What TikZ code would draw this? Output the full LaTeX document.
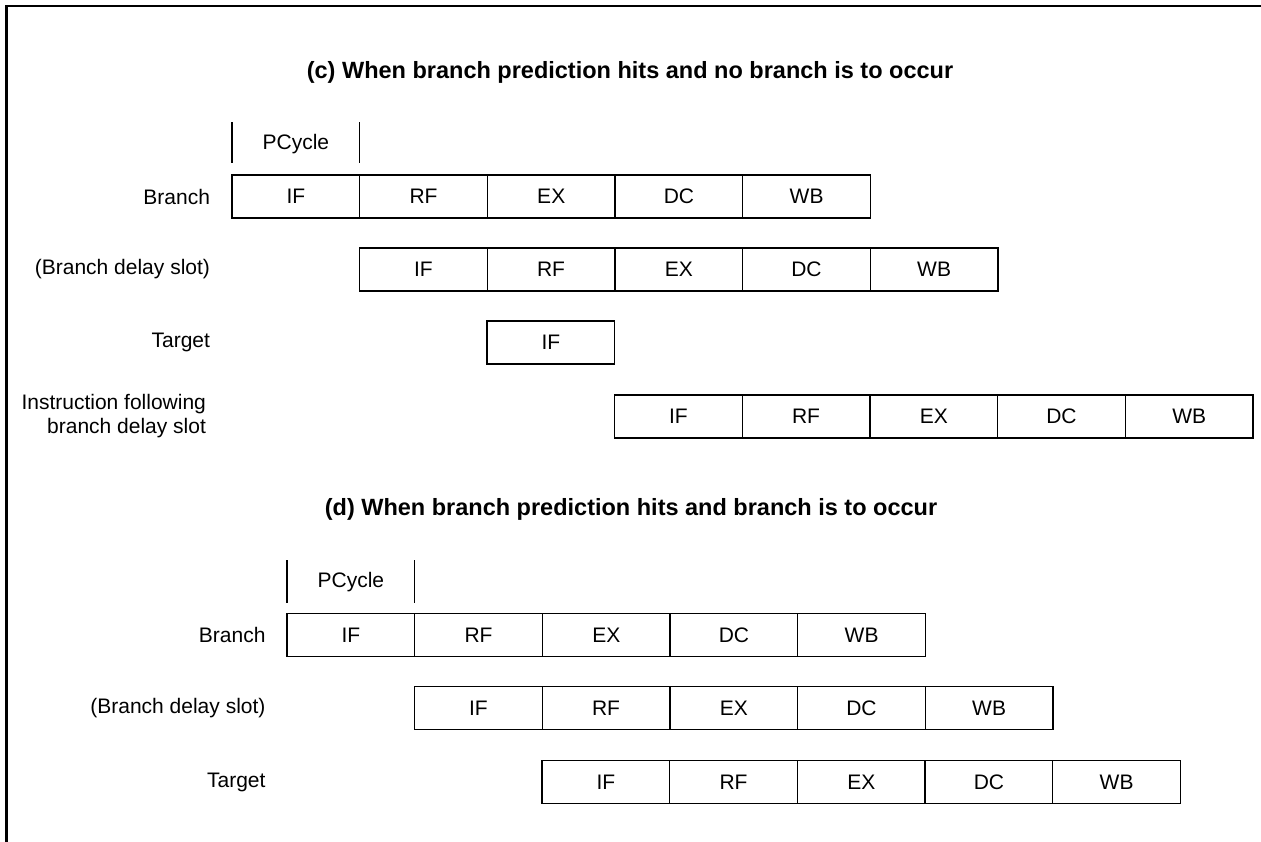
\documentclass[tikz,border=0pt]{standalone}
\usepackage{fontspec}
\setmainfont{Liberation Sans}
\usetikzlibrary{positioning}
\newcommand{\stagefont}{\fontsize{21}{24}\selectfont}
\newcommand{\titlefont}{\fontsize{23.5}{27}\selectfont\bfseries}
\begin{document}
\begin{tikzpicture}[x=1pt, y=-1pt]
        \tikzstyle{stage} = [rectangle, draw, line width=1.3pt, minimum width=127.7pt, minimum height=43pt, inner sep=0pt, outer sep=0pt, font=\stagefont]
        \tikzstyle{rowlabel} = [anchor=east, align=right, font=\stagefont]
        \tikzstyle{heading} = [font=\titlefont]
        \tikzstyle{cycletick} = [line width=1.3pt]

        \useasboundingbox (0,0) rectangle (1261,842);
        \draw[line width=2.3pt] (6.5,842) -- (6.5,5.8) -- (1261,5.8);

        % (c) no branch
        \node[heading] (ctitle) at (630,72.5) {(c) When branch prediction hits and no branch is to occur};

        \node[stage, anchor=west] (cbr1) at (232,196.5) {IF};
        \node[stage, right=0pt of cbr1] (cbr2) {RF};
        \node[stage, right=0pt of cbr2] (cbr3) {EX};
        \node[stage, right=0pt of cbr3] (cbr4) {DC};
        \node[stage, right=0pt of cbr4] (cbr5) {WB};

        \node[stage, anchor=west] (cds1) at (359.5,269.5) {IF};
        \node[stage, right=0pt of cds1] (cds2) {RF};
        \node[stage, right=0pt of cds2] (cds3) {EX};
        \node[stage, right=0pt of cds3] (cds4) {DC};
        \node[stage, right=0pt of cds4] (cds5) {WB};

        \node[stage, anchor=west] (ctg1) at (487,342.5) {IF};

        \node[stage, anchor=west] (cnx1) at (614.5,416.5) {IF};
        \node[stage, right=0pt of cnx1] (cnx2) {RF};
        \node[stage, right=0pt of cnx2] (cnx3) {EX};
        \node[stage, right=0pt of cnx3] (cnx4) {DC};
        \node[stage, right=0pt of cnx4] (cnx5) {WB};

        \node[rowlabel, left=18.5pt of cbr1] (cbrlabel) {Branch};
        \node[rowlabel] (cdslabel) at (cbrlabel.east |- cds1) {(Branch delay slot)};
        \node[rowlabel] (ctglabel) at (cbrlabel.east |- ctg1) {Target};
        \node[rowlabel, xshift=-4pt] (cnxlabel) at (cbrlabel.east |- cnx1) {Instruction following\\branch delay slot};

        \node[font=\stagefont, above=18pt of cbr1] (cpcycle) {PCycle};
        \draw[cycletick] ([yshift=12pt]cbr1.north west) -- ++(0,-41);
        \draw[cycletick] ([yshift=12pt]cbr1.north east) -- ++(0,-41);

        % (d) branch
        \node[heading] (dtitle) at (631,509) {(d) When branch prediction hits and branch is to occur};

        \node[stage, anchor=west] (dbr1) at (287,635) {IF};
        \node[stage, right=0pt of dbr1] (dbr2) {RF};
        \node[stage, right=0pt of dbr2] (dbr3) {EX};
        \node[stage, right=0pt of dbr3] (dbr4) {DC};
        \node[stage, right=0pt of dbr4] (dbr5) {WB};

        \node[stage, anchor=west] (dds1) at (414.5,708) {IF};
        \node[stage, right=0pt of dds1] (dds2) {RF};
        \node[stage, right=0pt of dds2] (dds3) {EX};
        \node[stage, right=0pt of dds3] (dds4) {DC};
        \node[stage, right=0pt of dds4] (dds5) {WB};

        \node[stage, anchor=west] (dtg1) at (542,782) {IF};
        \node[stage, right=0pt of dtg1] (dtg2) {RF};
        \node[stage, right=0pt of dtg2] (dtg3) {EX};
        \node[stage, right=0pt of dtg3] (dtg4) {DC};
        \node[stage, right=0pt of dtg4] (dtg5) {WB};

        \node[rowlabel, left=18pt of dbr1] (dbrlabel) {Branch};
        \node[rowlabel] (ddslabel) at (dbrlabel.east |- dds1) {(Branch delay slot)};
        \node[rowlabel] (dtglabel) at (dbrlabel.east |- dtg1) {Target};

        \node[font=\stagefont, above=18pt of dbr1] (dpcycle) {PCycle};
        \draw[cycletick] ([yshift=11pt]dbr1.north west) -- ++(0,-43);
        \draw[cycletick] ([yshift=11pt]dbr1.north east) -- ++(0,-43);
\end{tikzpicture}
\end{document}
